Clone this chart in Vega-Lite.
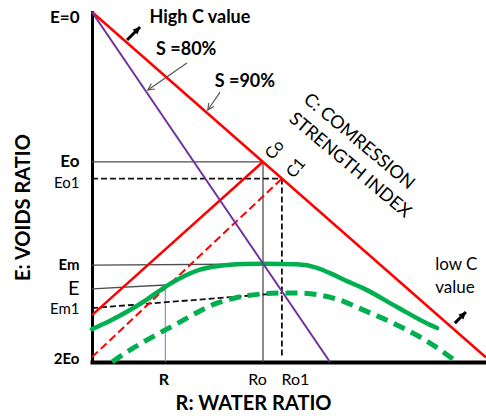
{
  "$schema": "https://vega.github.io/schema/vega-lite/v6.json",
  "width": 394,
  "height": 350,
  "autosize": {"type": "none"},
  "padding": {"left": 92, "top": 12, "right": 0, "bottom": 54},
  "background": "white",
  "config": {"view": {"stroke": null}, "font": "Lato"},
  "datasets": {
    "segments": [
      {"kind": "guide", "x": 0, "E": 42.8, "x2": 43.4, "E2": 42.8},
      {"kind": "guide", "x": 43.4, "E": 42.8, "x2": 43.4, "E2": 100},
      {"kind": "guide", "x": 0, "E": 72.3, "x2": 43.4, "E2": 72.0},
      {"kind": "guide", "x": 0, "E": 79.1, "x2": 18.6, "E2": 78.0},
      {"kind": "r", "x": 18.6, "E": 78.0, "x2": 18.6, "E2": 100},
      {"kind": "guideDash", "x": 0, "E": 47.6, "x2": 48.2, "E2": 47.6},
      {"kind": "guideDash", "x": 48.2, "E": 47.6, "x2": 48.2, "E2": 98.6},
      {"kind": "guideDash", "x": 0, "E": 84.6, "x2": 48.2, "E2": 80.3},
      {"kind": "red", "x": 0, "E": 0, "x2": 100, "E2": 98.7},
      {"kind": "red", "x": 0, "E": 86.6, "x2": 43.4, "E2": 42.8},
      {"kind": "redDash", "x": 0, "E": 98.6, "x2": 48.2, "E2": 47.6},
      {"kind": "purple", "x": 0, "E": 0, "x2": 60.4, "E2": 100},
      {"kind": "arrowBlack", "x": 8.9, "E": 8.0, "x2": 12.2, "E2": 4.3},
      {"kind": "arrowBlack", "x": 92.1, "E": 88.9, "x2": 94.9, "E2": 85.7},
      {"kind": "arrowGray", "x": 24.1, "E": 14.6, "x2": 14.2, "E2": 22.3},
      {"kind": "arrowGray", "x": 32.5, "E": 22.9, "x2": 29.4, "E2": 28.0}
    ],
    "heads": [
      {"head": "black", "x": 12.2, "E": 4.3},
      {"head": "black", "x": 94.9, "E": 85.7},
      {"head": "s80", "x": 14.2, "E": 22.3},
      {"head": "s90", "x": 29.4, "E": 28.0}
    ],
    "curves": [
      {"curve": "solid", "x": 0, "E": 90.6},
      {"curve": "solid", "x": 4.6, "E": 88.2},
      {"curve": "solid", "x": 9.1, "E": 85.5},
      {"curve": "solid", "x": 14.0, "E": 82.1},
      {"curve": "solid", "x": 18.5, "E": 78.6},
      {"curve": "solid", "x": 22.8, "E": 75.8},
      {"curve": "solid", "x": 27.4, "E": 73.6},
      {"curve": "solid", "x": 32.5, "E": 72.5},
      {"curve": "solid", "x": 38.8, "E": 72.0},
      {"curve": "solid", "x": 43.4, "E": 71.9},
      {"curve": "solid", "x": 52.0, "E": 72.1},
      {"curve": "solid", "x": 57.1, "E": 73.1},
      {"curve": "solid", "x": 60.4, "E": 74.6},
      {"curve": "solid", "x": 64.7, "E": 76.9},
      {"curve": "solid", "x": 68.8, "E": 78.9},
      {"curve": "solid", "x": 77.4, "E": 84.3},
      {"curve": "solid", "x": 85.8, "E": 89.4},
      {"curve": "solid", "x": 87.6, "E": 90.3},
      {"curve": "dashed", "x": 5.1, "E": 100},
      {"curve": "dashed", "x": 9.6, "E": 96.6},
      {"curve": "dashed", "x": 14.0, "E": 93.7},
      {"curve": "dashed", "x": 18.5, "E": 90.9},
      {"curve": "dashed", "x": 22.3, "E": 88.6},
      {"curve": "dashed", "x": 27.4, "E": 85.4},
      {"curve": "dashed", "x": 31.2, "E": 83.4},
      {"curve": "dashed", "x": 36.3, "E": 81.7},
      {"curve": "dashed", "x": 42.6, "E": 80.6},
      {"curve": "dashed", "x": 48.5, "E": 80.3},
      {"curve": "dashed", "x": 52.8, "E": 80.3},
      {"curve": "dashed", "x": 57.9, "E": 80.9},
      {"curve": "dashed", "x": 62.9, "E": 82.3},
      {"curve": "dashed", "x": 68.8, "E": 85.1},
      {"curve": "dashed", "x": 77.4, "E": 89.4},
      {"curve": "dashed", "x": 85.8, "E": 94.6},
      {"curve": "dashed", "x": 92.6, "E": 100}
    ],
    "notes": [
      {"kind": "bold", "text": "High C value", "x": 27.4, "E": 1.7},
      {"kind": "bold", "text": "S =80%", "x": 23.9, "E": 10.9},
      {"kind": "bold", "text": "S =90%", "x": 38.8, "E": 20.0},
      {"kind": "plain", "text": "low  C", "x": 87.1, "E": 72.3},
      {"kind": "plain", "text": "value", "x": 87.1, "E": 78.9},
      {"kind": "index", "text": "C: COMRESSION", "x": 67.7, "E": 37.1},
      {"kind": "index", "text": "STRENGTH INDEX", "x": 65.4, "E": 43.9},
      {"kind": "point", "text": "Co", "x": 46.4, "E": 39.4},
      {"kind": "point", "text": "C1", "x": 51.8, "E": 44.6}
    ]
  },
  "encoding": {
    "x": {
      "field": "x",
      "type": "quantitative",
      "scale": {"domain": [0, 100], "nice": false, "zero": false},
      "axis": {
        "title": "R: WATER RATIO",
        "titleFont": "Lato",
        "titleFontSize": 20,
        "titleFontWeight": "bold",
        "titleColor": "black",
        "titleX": 161,
        "titleY": 41,
        "titleAlign": "center",
        "titleBaseline": "middle",
        "values": [18.6, 43.4, 48.2],
        "labelExpr": "datum.value == 18.6 ? 'R' : datum.value == 43.4 ? 'Ro' : 'Ro1'",
        "labelOffset": {"condition": [{"test": "datum.value == 43.4", "value": -6}, {"test": "datum.value == 48.2", "value": 13}], "value": -2},
        "labelFontWeight": {"condition": {"test": "datum.value == 18.6", "value": "bold"}, "value": "normal"},
        "labelFontSize": 16,
        "labelColor": "black",
        "labelPadding": 9,
        "labelFlush": false,
        "labelOverlap": false,
        "ticks": false,
        "grid": false,
        "domainColor": "black",
        "domainWidth": 4,
        "domainCap": "square"
      }
    },
    "y": {
      "field": "E",
      "type": "quantitative",
      "scale": {"domain": [0, 100], "nice": false, "zero": false, "reverse": true},
      "axis": {
        "title": "E: VOIDS RATIO",
        "titleFont": "Lato",
        "titleFontSize": 20,
        "titleFontWeight": "bold",
        "titleColor": "black",
        "titleAngle": -90,
        "titleX": -69,
        "titleY": 195,
        "titleAlign": "center",
        "titleBaseline": "middle",
        "values": [0, 42.8, 47.6, 72, 79.1, 84.6, 100],
        "labelExpr": "datum.value == 0 ? 'E=0' : datum.value == 42.8 ? 'Eo' : datum.value == 47.6 ? 'Eo1' : datum.value == 72 ? 'Em' : datum.value == 79.1 ? 'E' : datum.value == 84.6 ? 'Em1' : '2Eo'",
        "labelFontSize": {"condition": [{"test": "datum.value == 79.1", "value": 20}, {"test": "datum.value == 0 || datum.value == 42.8", "value": 17}], "value": 15},
        "labelFontWeight": {"condition": {"test": "datum.value == 47.6 || datum.value == 79.1 || datum.value == 84.6", "value": "normal"}, "value": "bold"},
        "labelOffset": {"condition": [{"test": "datum.value == 0", "value": 5}, {"test": "datum.value == 47.6", "value": 4}, {"test": "datum.value == 100", "value": -4}], "value": 0},
        "labelColor": "black",
        "labelPadding": 13,
        "labelAlign": "right",
        "labelBaseline": "middle",
        "labelOverlap": false,
        "labelBound": false,
        "ticks": false,
        "grid": false,
        "domainColor": "black",
        "domainWidth": 3,
        "domainCap": "square"
      }
    }
  },
  "layer": [
    {
      "data": {"name": "segments"},
      "transform": [{"filter": "datum.kind == 'guide'"}],
      "mark": {"type": "rule", "color": "#4d4d4d", "strokeWidth": 1.3},
      "encoding": {"x2": {"field": "x2"}, "y2": {"field": "E2"}}
    },
    {
      "data": {"name": "segments"},
      "transform": [{"filter": "datum.kind == 'r'"}],
      "mark": {"type": "rule", "color": "#5b87c5", "strokeWidth": 1},
      "encoding": {"x2": {"field": "x2"}, "y2": {"field": "E2"}}
    },
    {
      "data": {"name": "segments"},
      "transform": [{"filter": "datum.kind == 'guideDash'"}],
      "mark": {"type": "rule", "color": "#111111", "strokeWidth": 1.8, "strokeDash": [6, 3]},
      "encoding": {"x2": {"field": "x2"}, "y2": {"field": "E2"}}
    },
    {
      "data": {"name": "segments"},
      "transform": [{"filter": "datum.kind == 'red'"}],
      "mark": {"type": "rule", "color": "#ff0000", "strokeWidth": 2.5},
      "encoding": {"x2": {"field": "x2"}, "y2": {"field": "E2"}}
    },
    {
      "data": {"name": "segments"},
      "transform": [{"filter": "datum.kind == 'redDash'"}],
      "mark": {"type": "rule", "color": "#ff0000", "strokeWidth": 2, "strokeDash": [8, 4]},
      "encoding": {"x2": {"field": "x2"}, "y2": {"field": "E2"}}
    },
    {
      "data": {"name": "curves"},
      "transform": [{"filter": "datum.curve == 'solid'"}],
      "mark": {"type": "line", "color": "#00b050", "strokeWidth": 4.5, "interpolate": "monotone", "strokeCap": "round"},
      "encoding": {}
    },
    {
      "data": {"name": "curves"},
      "transform": [{"filter": "datum.curve == 'dashed'"}],
      "mark": {"type": "line", "color": "#00b050", "strokeWidth": 5, "interpolate": "monotone", "strokeDash": [12, 7]},
      "encoding": {}
    },
    {
      "data": {"name": "segments"},
      "transform": [{"filter": "datum.kind == 'purple'"}],
      "mark": {"type": "rule", "color": "#7030a0", "strokeWidth": 2},
      "encoding": {"x2": {"field": "x2"}, "y2": {"field": "E2"}}
    },
    {
      "data": {"name": "segments"},
      "transform": [{"filter": "datum.kind == 'arrowBlack'"}],
      "mark": {"type": "rule", "color": "black", "strokeWidth": 3},
      "encoding": {"x2": {"field": "x2"}, "y2": {"field": "E2"}}
    },
    {
      "data": {"name": "segments"},
      "transform": [{"filter": "datum.kind == 'arrowGray'"}],
      "mark": {"type": "rule", "color": "#555555", "strokeWidth": 1.2},
      "encoding": {"x2": {"field": "x2"}, "y2": {"field": "E2"}}
    },
    {
      "data": {"name": "heads"},
      "transform": [{"filter": "datum.head == 'black'"}],
      "mark": {"type": "point", "shape": "M-1,2L0,0L1,2Z", "filled": true, "color": "black", "size": 50, "angle": 45, "opacity": 1},
      "encoding": {}
    },
    {
      "data": {"name": "heads"},
      "transform": [{"filter": "datum.head == 's80'"}],
      "mark": {"type": "point", "shape": "M-1,2L0,0L1,2", "filled": false, "color": "#555555", "strokeWidth": 1.2, "size": 40, "angle": 235, "opacity": 1},
      "encoding": {}
    },
    {
      "data": {"name": "heads"},
      "transform": [{"filter": "datum.head == 's90'"}],
      "mark": {"type": "point", "shape": "M-1,2L0,0L1,2", "filled": false, "color": "#555555", "strokeWidth": 1.2, "size": 40, "angle": 214, "opacity": 1},
      "encoding": {}
    },
    {
      "data": {"name": "notes"},
      "transform": [{"filter": "datum.kind == 'bold'"}],
      "mark": {"type": "text", "font": "Lato", "fontSize": 18, "fontWeight": "bold", "color": "black", "align": "center", "baseline": "middle"},
      "encoding": {"text": {"field": "text"}}
    },
    {
      "data": {"name": "notes"},
      "transform": [{"filter": "datum.kind == 'plain'"}],
      "mark": {"type": "text", "font": "Lato", "fontSize": 17, "color": "black", "align": "left", "baseline": "middle"},
      "encoding": {"text": {"field": "text"}}
    },
    {
      "data": {"name": "notes"},
      "transform": [{"filter": "datum.kind == 'index'"}],
      "mark": {"type": "text", "font": "Lato", "fontSize": 18, "color": "black", "align": "center", "baseline": "middle", "angle": 40},
      "encoding": {"text": {"field": "text"}}
    },
    {
      "data": {"name": "notes"},
      "transform": [{"filter": "datum.kind == 'point'"}],
      "mark": {"type": "text", "font": "Lato", "fontSize": 16, "color": "black", "align": "center", "baseline": "middle", "angle": -50},
      "encoding": {"text": {"field": "text"}}
    }
  ]
}
